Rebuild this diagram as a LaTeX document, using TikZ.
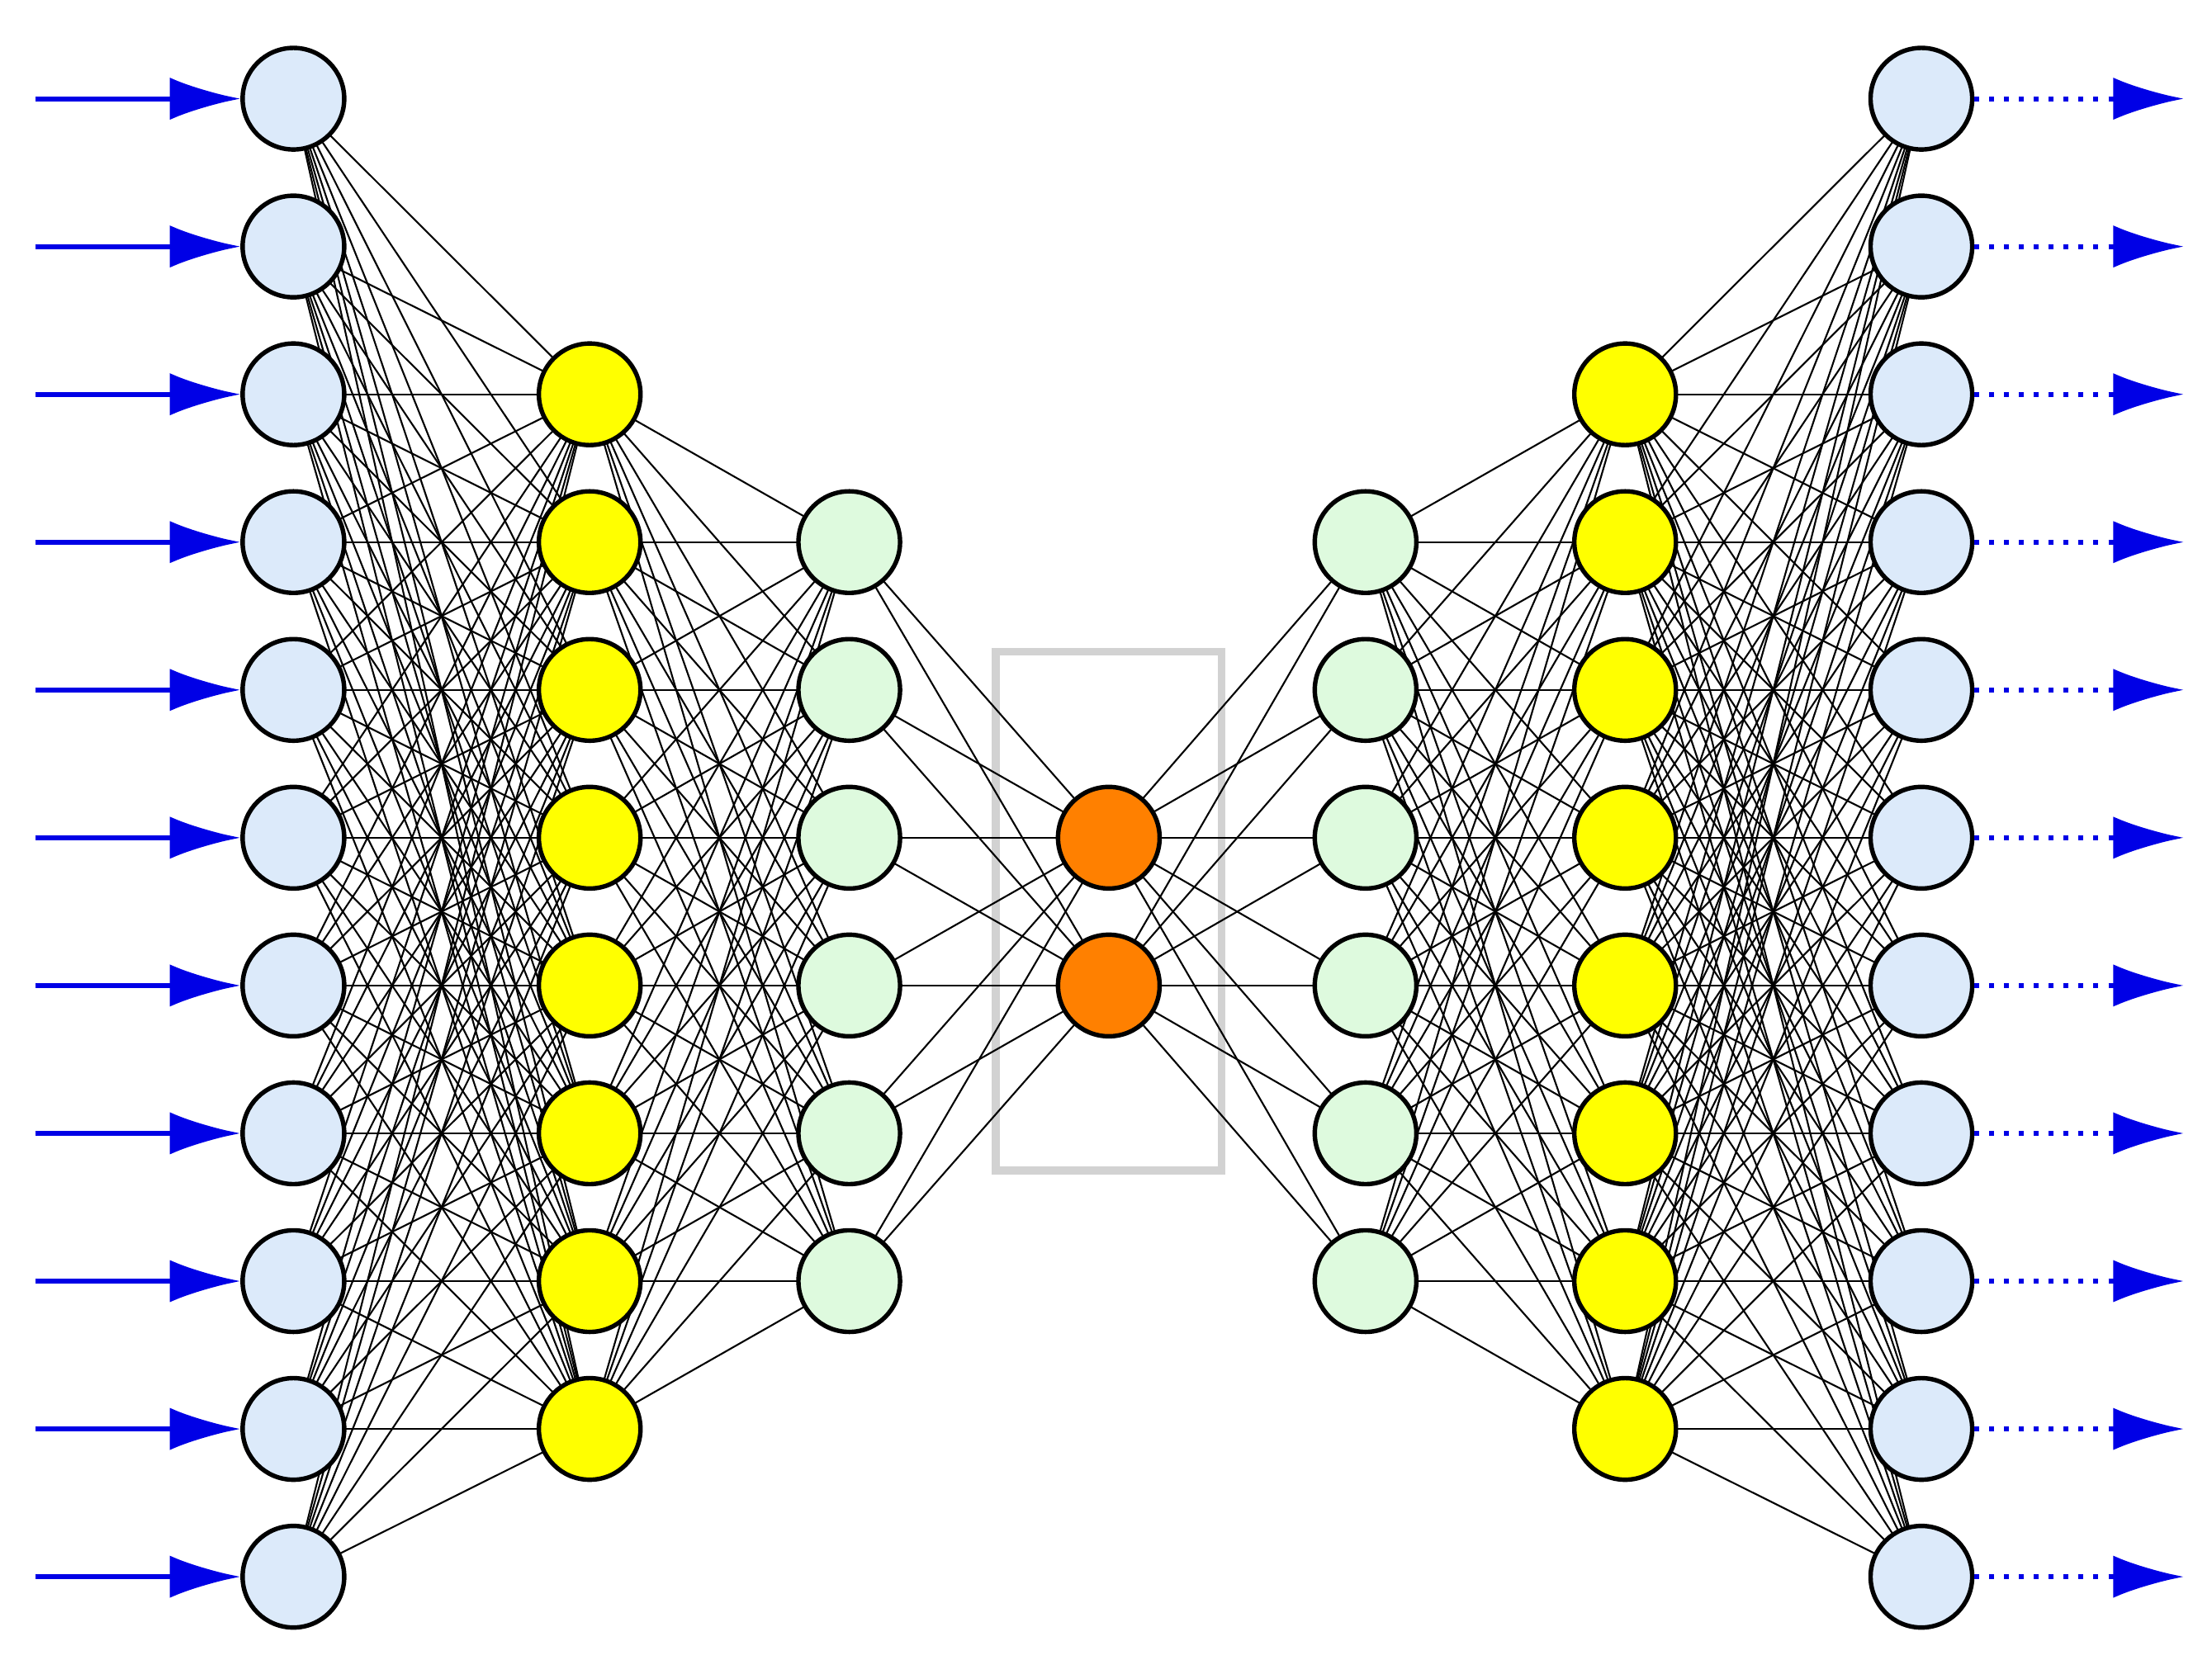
\documentclass[tikz,border=0pt]{standalone}
\usetikzlibrary{arrows.meta,backgrounds}
\definecolor{inblue}{RGB}{220,234,250}
\definecolor{ylw}{RGB}{255,255,0}
\definecolor{grn}{RGB}{222,250,222}
\definecolor{org}{RGB}{255,128,0}
\definecolor{arr}{RGB}{0,0,230}
\tikzset{
  neuron/.style={circle,draw=black,line width=0.9pt,minimum size=0.72cm,inner sep=0pt},
  edge/.style={black,line width=0.35pt},
  inarrow/.style={arr,line width=1pt,-{Latex[length=0.5cm,width=0.3cm]}},
  outarrow/.style={arr,line width=1pt,dotted,-{Latex[length=0.5cm,width=0.3cm]}}
}
\begin{document}
\begin{tikzpicture}[x=0.01cm,y=-0.01cm]
\useasboundingbox (0,0) rectangle (1568,1177);
\def\Y#1{70+104.8*#1}
% layers: L1 input, L2 yellow, L3 green, L4 orange, L5 green, L6 yellow, L7 output
\foreach \i in {0,...,10} {
  \node[neuron,fill=inblue] (a\i) at (208,{\Y{\i}}) {};
  \node[neuron,fill=inblue] (g\i) at (1362,{\Y{\i}}) {};
}
\foreach \i in {2,...,9} {
  \node[neuron,fill=ylw] (b\i) at (418,{\Y{\i}}) {};
  \node[neuron,fill=ylw] (f\i) at (1152,{\Y{\i}}) {};
}
\foreach \i in {3,...,8} {
  \node[neuron,fill=grn] (c\i) at (602,{\Y{\i}}) {};
  \node[neuron,fill=grn] (e\i) at (968,{\Y{\i}}) {};
}
\foreach \i in {5,6} {
  \node[neuron,fill=org] (d\i) at (786,{\Y{\i}}) {};
}
\begin{pgfonlayer}{background}
\draw[gray!35,line width=1.6pt] (706,462) rectangle (866,830);
\foreach \i in {0,...,10} \foreach \j in {2,...,9} {
  \draw[edge] (a\i.center) -- (b\j.center);
  \draw[edge] (g\i.center) -- (f\j.center);
}
\foreach \i in {2,...,9} \foreach \j in {3,...,8} {
  \draw[edge] (b\i.center) -- (c\j.center);
  \draw[edge] (f\i.center) -- (e\j.center);
}
\foreach \i in {3,...,8} \foreach \j in {5,6} {
  \draw[edge] (c\i.center) -- (d\j.center);
  \draw[edge] (e\i.center) -- (d\j.center);
}
\end{pgfonlayer}
\foreach \i in {0,...,10} {
  \coordinate (s\i) at (25,{\Y{\i}});
  \coordinate (t\i) at (1548,{\Y{\i}});
  \draw[inarrow] (s\i) -- (a\i.west);
  \draw[outarrow] (g\i.east) -- (t\i);
}
\end{tikzpicture}
\end{document}
